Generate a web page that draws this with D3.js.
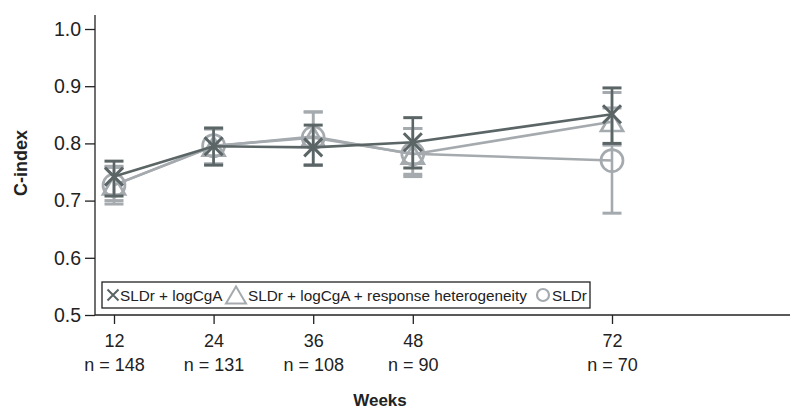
<!DOCTYPE html>
<html>
<head>
<meta charset="utf-8">
<script src="https://cdn.jsdelivr.net/npm/d3@7"></script>
<style>
  body { margin: 0; background: #fff; }
  svg { display: block; font-family: "Liberation Sans", Arial, sans-serif; }
</style>
</head>
<body>
<div id="chart"></div>
<script>
//---------------------------DATA---------------------------//
var weeks = [12, 24, 36, 48, 72];
var nLabels = ["n = 148", "n = 131", "n = 108", "n = 90", "n = 70"];
var yTicks = [0.5, 0.6, 0.7, 0.8, 0.9, 1.0];

// SLDr + logCgA
var cgaMean = [0.742, 0.795, 0.793, 0.802, 0.851];
var cgaLow  = [0.708, 0.762, 0.762, 0.757, 0.800];
var cgaHigh = [0.769, 0.827, 0.832, 0.845, 0.897];

// SLDr + logCgA + response heterogeneity
var hetMean = [0.727, 0.795, 0.812, 0.781, 0.838];
var hetLow  = [0.700, 0.764, 0.762, 0.746, 0.797];
var hetHigh = [0.760, 0.825, 0.855, 0.826, 0.889];

// SLDr
var sldMean = [0.727, 0.796, 0.810, 0.782, 0.770];
var sldLow  = [0.694, 0.764, 0.762, 0.742, 0.678];
var sldHigh = [0.758, 0.826, 0.855, 0.826, 0.862];

var dark = "#5b6566", light = "#a5aaaf";

var series = [
  {name: "SLDr", mark: "circle", color: light, mean: sldMean, low: sldLow, high: sldHigh},
  {name: "SLDr + logCgA + response heterogeneity", mark: "triangle", color: light, mean: hetMean, low: hetLow, high: hetHigh},
  {name: "SLDr + logCgA", mark: "cross", color: dark, mean: cgaMean, low: cgaLow, high: cgaHigh}
];

//---------------------------SVG----------------------------//
var W = 790, H = 411;
var svg = d3.select("#chart").append("svg").attr("width", W).attr("height", H);

var x = d3.scaleLinear().domain([12, 72]).range([114, 612]);
var y = d3.scaleLinear().domain([0.5, 1.0]).range([315, 29]);
var axisX = 95;

//---------------------------AXES---------------------------//
var gy = svg.append("g").attr("transform", "translate(" + axisX + ",0)")
  .call(d3.axisLeft(y).tickValues(yTicks).tickFormat(d3.format(".1f")).tickSize(10).tickPadding(4));
gy.select(".domain").remove();
gy.append("line").attr("x1", 0).attr("x2", 0).attr("y1", y(0.5)).attr("y2", y(1.0) - 14)
  .attr("stroke", "#222").attr("stroke-width", 1.3);
gy.selectAll(".tick line").attr("stroke", "#222").attr("stroke-width", 1.3);
gy.selectAll(".tick text").attr("fill", "#222").style("font-size", "19.5px");

var gx = svg.append("g").attr("transform", "translate(0," + y(0.5) + ")")
  .call(d3.axisBottom(x).tickValues(weeks).tickSize(9).tickFormat(""));
gx.select(".domain").remove();
gx.append("line").attr("x1", axisX).attr("x2", W).attr("y1", 0).attr("y2", 0)
  .attr("stroke", "#222").attr("stroke-width", 1.3);
gx.selectAll(".tick line").attr("stroke", "#222").attr("stroke-width", 1.3);
gx.selectAll(".tick").each(function(d, i) {
  var t = d3.select(this).append("text").attr("fill", "#222").attr("text-anchor", "middle")
    .style("font-size", "18px");
  t.append("tspan").attr("x", 0).attr("y", 32).text(d);
  t.append("tspan").attr("x", 0).attr("y", 56).text(nLabels[i]);
});

svg.append("text").attr("transform", "translate(27,163) rotate(-90)")
  .attr("text-anchor", "middle").style("font-size", "18px").style("font-weight", "bold")
  .attr("fill", "#222").text("C-index");
svg.append("text").attr("x", 380).attr("y", 406)
  .attr("text-anchor", "middle").style("font-size", "17px").style("font-weight", "bold")
  .attr("fill", "#222").text("Weeks");

//--------------------------MARKERS-------------------------//
function drawMark(g, type, color, cx, cy, s, sw) {
  if (type == "circle") {
    g.append("circle").attr("cx", cx).attr("cy", cy).attr("r", s)
      .attr("fill", "none").attr("stroke", color).attr("stroke-width", sw);
  } else if (type == "triangle") {
    var h = s * 1.7;
    g.append("path")
      .attr("d", "M" + (cx - s) + "," + (cy + h / 2) + "L" + cx + "," + (cy - h / 2) + "L" + (cx + s) + "," + (cy + h / 2) + "Z")
      .attr("fill", "none").attr("stroke", color).attr("stroke-width", sw);
  } else {
    g.append("path")
      .attr("d", "M" + (cx - s) + "," + (cy - s) + "L" + (cx + s) + "," + (cy + s) +
                 "M" + (cx - s) + "," + (cy + s) + "L" + (cx + s) + "," + (cy - s))
      .attr("fill", "none").attr("stroke", color).attr("stroke-width", sw);
  }
}

var line = d3.line().x(function(d) { return x(d.w); }).y(function(d) { return y(d.v); });

series.forEach(function(s) {
  var pts = weeks.map(function(w, i) { return {w: w, v: s.mean[i], lo: s.low[i], hi: s.high[i]}; });
  var g = svg.append("g");
  g.append("path").attr("d", line(pts)).attr("fill", "none")
    .attr("stroke", s.color).attr("stroke-width", 2.6);
  pts.forEach(function(p) {
    var cx = x(p.w);
    g.append("line").attr("x1", cx).attr("x2", cx).attr("y1", y(p.lo)).attr("y2", y(p.hi))
      .attr("stroke", s.color).attr("stroke-width", 2.6);
    [p.lo, p.hi].forEach(function(v) {
      g.append("line").attr("x1", cx - 9.5).attr("x2", cx + 9.5).attr("y1", y(v)).attr("y2", y(v))
        .attr("stroke", s.color).attr("stroke-width", 3);
    });
    var size = s.mark == "cross" ? 9 : 11;
    drawMark(g, s.mark, s.color, cx, y(p.v), size, s.mark == "cross" ? 3 : 2.7);
  });
});

//--------------------------LEGEND--------------------------//
var leg = svg.append("g");
leg.append("rect").attr("x", 102).attr("y", 282).attr("width", 488).attr("height", 26)
  .attr("fill", "#fff").attr("stroke", "#222").attr("stroke-width", 1.3);
var legItems = [
  {name: "SLDr + logCgA", mark: "cross", color: dark, mx: 113, tx: 120, size: 5.5, sw: 2},
  {name: "SLDr + logCgA + response heterogeneity", mark: "triangle", color: light, mx: 236, tx: 248, size: 10, sw: 2},
  {name: "SLDr", mark: "circle", color: light, mx: 543, tx: 552, size: 6, sw: 2.2}
];
legItems.forEach(function(it) {
  drawMark(leg, it.mark, it.color, it.mx, 295, it.size, it.sw);
  leg.append("text").attr("x", it.tx).attr("y", 301).style("font-size", "15.3px")
    .attr("fill", "#222").text(it.name);
});
</script>
</body>
</html>
